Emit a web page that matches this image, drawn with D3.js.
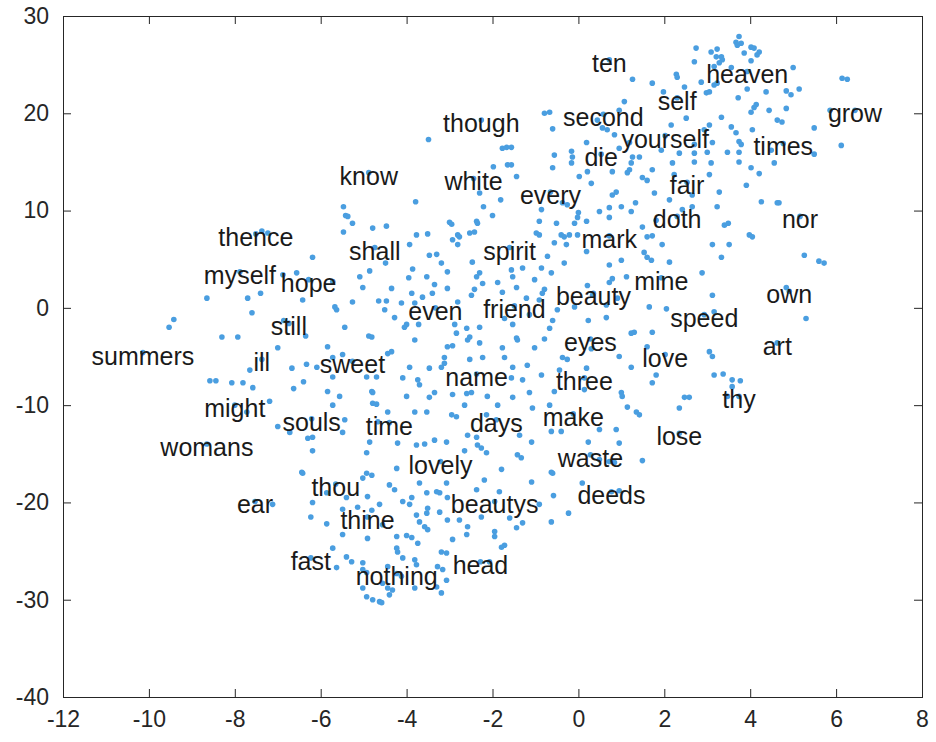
<!DOCTYPE html>
<html>
<head>
<meta charset="utf-8">
<script src="https://cdn.jsdelivr.net/npm/d3@7"></script>
<style>
  html, body { margin: 0; padding: 0; background: #fff; }
  svg { display: block; }
</style>
</head>
<body>
<div id="chart"></div>
<script>
// Word embedding (t-SNE) scatter: every word is a dot, a subset is labelled.
const xTicks = [-12, -10, -8, -6, -4, -2, 0, 2, 4, 6, 8];
const yTicks = [-40, -30, -20, -10, 0, 10, 20, 30];

// Labelled words: [word, x, y]
const labelledWords = [
  ["ten", 0.72, 25.5], ["heaven", 3.93, 24.3], ["self", 2.30, 21.6], ["grow", 6.44, 20.3],
  ["though", -2.26, 19.3], ["second", 0.58, 19.9], ["yourself", 2.02, 17.7], ["times", 4.77, 16.9],
  ["die", 0.53, 15.8], ["know", -4.88, 13.9], ["white", -2.44, 13.3], ["fair", 2.53, 12.9],
  ["every", -0.65, 11.9], ["doth", 2.30, 9.4], ["nor", 5.16, 9.4], ["thence", -7.51, 7.6],
  ["mark", 0.72, 7.4], ["shall", -4.74, 6.2], ["spirit", -1.60, 6.2], ["myself", -7.88, 3.7],
  ["hope", -6.28, 2.9], ["mine", 1.93, 3.1], ["own", 4.91, 1.7], ["beauty", 0.35, 1.5],
  ["even", -3.33, 0.0], ["friend", -1.49, 0.2], ["speed", 2.93, -0.7], ["still", -6.74, -1.6],
  ["eyes", 0.28, -3.2], ["art", 4.63, -3.6], ["summers", -10.14, -4.6], ["love", 2.02, -4.8],
  ["ill", -7.37, -5.3], ["sweet", -5.26, -5.5], ["name", -2.37, -6.8], ["three", 0.14, -7.2],
  ["thy", 3.74, -9.1], ["might", -8.00, -10.0], ["souls", -6.21, -11.4], ["make", -0.12, -10.9],
  ["time", -4.40, -11.8], ["days", -1.91, -11.5], ["lose", 2.35, -12.9], ["womans", -8.65, -14.0],
  ["waste", 0.28, -15.1], ["lovely", -3.21, -15.8], ["thou", -5.65, -18.1], ["deeds", 0.77, -18.9],
  ["ear", -7.53, -19.9], ["beautys", -1.95, -19.9], ["thine", -4.91, -21.5], ["fast", -6.23, -25.7],
  ["head", -2.28, -26.1], ["nothing", -4.23, -27.3]
];

// Unlabelled words: [x, y]
const otherWords = [
  [-3.49,17.3],[-1.77,16.4],[-1.67,16.5],[-1.98,14.5],[-1.65,14.7],[-2.30,11.8],[-1.81,11.1],
  [-2.21,10.4],[-2.00,9.5],[-3.79,10.9],[-5.47,10.4],[-5.42,9.5],[-5.37,9.4],[-5.26,8.7],
  [-4.47,8.4],[-4.79,8.2],[-3.00,8.8],[-2.95,8.6],[-2.37,8.9],[-2.35,8.7],
  [1.26,23.5],[1.72,23.1],[2.28,24.0],[2.30,23.7],[1.98,22.2],[2.47,22.7],[1.07,21.2],
  [0.95,20.3],[-0.79,20.0],[-0.67,20.1],[2.16,18.8],[2.51,19.5],[-0.60,18.4],[0.44,19.3],
  [0.56,18.5],[0.67,18.3],[0.84,17.8],[1.19,17.0],[0.95,16.4],[0.19,17.0],[-1.56,16.5],
  [-0.16,16.1],[-0.14,15.5],[-0.56,15.7],[1.26,15.5],[1.42,15.5],[1.93,16.2],[2.35,15.9],
  [-1.56,14.7],[-0.60,14.4],[-0.16,14.9],[0.21,14.0],[1.23,14.9],[1.19,14.2],[0.79,14.0],
  [1.14,13.9],[1.72,14.2],[1.49,13.4],[1.60,13.1],[-1.44,13.5],[0.02,13.5],[0.30,12.8],
  [2.19,14.9],[2.23,13.7],[0.88,11.9],[0.79,11.6],[1.77,11.8],[-0.37,10.8],[-0.26,10.6],
  [-0.86,10.1],[0.00,9.8],[0.19,8.9],[-0.02,9.3],[-0.09,8.7],[-0.51,8.7],[-0.91,8.9],
  [0.49,9.9],[0.72,10.3],[1.00,10.4],[1.33,10.8],[1.23,9.9],[0.72,9.3],[2.12,11.1],
  [1.49,8.3],[1.81,9.0],[2.42,10.1],
  [3.74,27.9],[3.67,27.3],[3.79,27.2],[3.70,27.0],[2.74,26.7],[3.09,26.3],[3.23,26.6],
  [3.21,25.8],[3.86,26.2],[4.02,26.8],[4.09,26.7],[4.21,26.3],[4.16,26.0],[2.70,25.3],
  [3.33,25.8],[3.35,25.5],[3.28,25.2],[3.16,24.8],[4.02,25.4],[3.56,24.7],[5.00,24.7],
  [6.14,23.6],[6.26,23.5],[2.86,23.2],[3.16,22.9],[3.23,23.1],[3.05,22.2],[2.98,22.1],
  [3.93,22.5],[4.37,22.2],[4.84,22.3],[4.95,21.9],[5.14,22.5],[3.72,21.6],[4.14,20.9],
  [4.09,20.6],[4.02,20.1],[4.44,20.3],[4.84,20.5],[3.33,19.6],[4.63,19.3],[4.74,19.1],
  [5.49,18.5],[5.86,20.3],[3.56,18.6],[3.67,18.0],[4.05,18.3],[2.93,18.3],[3.05,18.8],
  [3.74,17.1],[3.79,16.8],[3.12,17.0],[2.70,16.8],[2.70,15.9],[3.00,16.0],[3.47,16.0],
  [3.74,16.0],[4.49,16.2],[5.49,15.8],[6.12,16.7],[3.09,14.9],[2.70,15.0],[3.74,15.0],
  [4.56,14.9],[4.02,14.4],[4.21,13.8],[3.05,13.7],[3.91,12.6],[3.28,11.9],[2.65,11.6],
  [4.26,10.9],[4.63,10.8],[4.67,10.8],[3.23,10.4],[2.65,10.4],[3.40,8.5],[3.49,8.7],
  [-7.37,7.9],[-7.23,7.7],[-6.19,5.2],[-8.65,1.0],[-7.70,1.0],[-7.40,1.5],[-6.88,3.4],
  [-6.56,3.6],[-6.42,0.8],[-7.60,-0.5],[-9.42,-1.2],[-9.53,-2.0],[-8.30,-3.0],[-7.93,-3.0],
  [-6.86,-1.3],[-6.35,-2.9],[-7.00,-4.1],[-5.84,-4.0],[-7.65,-6.4],[-6.67,-6.2],
  [-6.33,-5.8],[-6.09,-6.1],[-8.58,-7.5],[-8.44,-7.5],[-8.07,-7.7],[-7.81,-7.7],[-7.58,-8.2],
  [-6.63,-8.3],[-6.40,-7.6],[-7.19,-9.6],[-7.72,-10.7],[-7.00,-12.2],[-5.84,-8.6],
  [-5.47,7.8],[-3.77,7.5],[-3.51,7.6],[-2.81,7.5],[-2.77,7.3],[-2.53,7.7],[-2.42,7.8],
  [-3.93,6.5],[-2.81,6.5],[-2.93,7.0],[-3.47,5.4],[-3.30,5.5],[-4.49,4.6],[-3.19,4.6],
  [-2.47,4.7],[-4.86,3.8],[-3.86,4.0],[-3.05,3.7],[-2.30,3.6],[-2.37,3.2],[-5.09,3.2],
  [-3.95,3.1],[-3.53,3.2],[-5.72,2.7],[-3.35,2.4],[-2.23,2.5],[-1.88,2.6],[-5.02,2.1],
  [-4.35,2.0],[-3.88,1.5],[-3.40,1.5],[-3.05,2.0],[-2.42,1.9],[-1.77,1.6],[-3.63,1.1],
  [-2.49,1.3],[-5.26,0.6],[-4.65,0.7],[-4.47,0.7],[-4.12,0.5],[-3.81,0.5],[-2.81,0.6],
  [-5.67,0.1],[-5.63,-0.2],[-4.51,-0.2],[-4.28,-1.0],[-4.00,-1.7],[-4.05,-2.0],[-3.72,-1.7],
  [-2.88,-1.7],[-2.60,-2.1],[-2.30,-2.0],[-1.72,-1.1],[-5.44,-2.0],[-2.84,-2.6],[-4.88,-2.9],
  [-4.81,-3.0],[-3.81,-3.3],[-2.53,-3.0],[-2.58,-3.3],[-3.05,-4.0],[-2.93,-3.9],[-2.30,-3.6],
  [-1.77,-4.1],[-4.35,-4.5],[-4.44,-4.7],[-5.49,-4.8],[-5.72,-5.1],[-3.12,-5.1],[-2.53,-5.3],
  [-2.23,-5.1],[-1.72,-5.1],[-3.93,-6.1],[-3.47,-6.2],[-3.19,-6.1],[-3.12,-5.7],[-4.93,-7.1],
  [-4.09,-7.2],[-3.74,-7.4],[-3.70,-7.9],[-4.70,-7.1],[-5.72,-7.1],[-4.81,-8.6],[-4.79,-8.7],
  [-3.35,-8.7],[-2.93,-8.9],[-2.60,-8.8],[-2.49,-8.7],[-2.12,-9.1],[-5.56,-9.1],[-4.00,-9.1],
  [-3.47,-9.2],[-4.79,-9.8],[-4.70,-9.9],[-2.65,-10.0],[-1.88,-10.0],[-5.72,-10.0],
  [-4.44,-10.7],[-3.81,-10.7],[-3.53,-10.7],[-2.95,-11.0],[-2.84,-11.2],[-2.14,-11.0],
  [-5.44,-11.5],[-4.67,-11.7],
  [-0.40,7.5],[-0.33,7.3],[-0.21,7.5],[-0.02,7.5],[-0.98,7.7],[-0.91,7.5],[-0.56,6.7],
  [-0.28,6.5],[0.19,5.8],[1.60,7.3],[1.72,7.4],[1.95,6.5],[1.53,5.7],[1.60,5.2],[1.70,4.9],
  [2.12,4.7],[-0.72,5.3],[-0.33,4.6],[-1.56,3.9],[-1.53,3.2],[-1.30,4.1],[-0.86,4.1],
  [-0.63,3.6],[0.72,4.4],[1.00,4.9],[1.12,3.2],[0.72,2.6],[0.79,3.0],[0.21,2.3],[-1.44,2.1],
  [-1.02,2.9],[-0.79,1.9],[-0.84,1.5],[-1.21,1.0],[-0.91,0.8],[-0.49,-0.2],[-0.09,0.1],
  [0.65,0.3],[0.33,1.3],[0.91,1.0],[1.65,0.1],[2.05,-0.1],[-1.53,-1.7],[-1.14,-0.7],
  [-0.60,-1.3],[0.23,-1.3],[0.65,-1.0],[-0.67,-2.1],[1.23,-2.6],[1.30,-2.5],[1.72,-2.5],
  [-1.44,-3.1],[-1.42,-3.3],[-0.79,-3.2],[-1.02,-4.1],[0.30,-4.2],[1.60,-4.0],[-0.37,-5.1],
  [-0.26,-5.3],[0.95,-5.0],[1.23,-6.1],[1.81,-6.9],[1.72,-7.7],[-1.53,-6.1],[-1.19,-5.9],
  [-0.86,-6.9],[-0.44,-6.4],[0.19,-6.2],[-1.30,-7.4],[-1.56,-7.2],[-0.56,-8.6],[0.14,-8.4],
  [1.00,-8.7],[1.02,-9.1],[-1.14,-8.7],[-1.53,-9.2],[-0.67,-10.0],[-1.07,-10.3],[1.14,-10.2],
  [1.35,-10.7],[1.42,-11.0],[2.35,-10.3],[2.47,-9.2],
  [3.98,7.5],[4.05,7.3],[3.12,6.5],[3.51,6.5],[3.33,5.2],[5.26,5.4],[5.60,4.8],[5.72,4.6],
  [2.88,3.6],[3.12,1.3],[4.84,2.1],[3.16,-0.4],[5.30,-1.1],[3.05,-4.5],[3.12,-5.0],
  [3.16,-6.9],[3.37,-6.8],[3.58,-7.4],[3.77,-7.5],[3.58,-8.1],[3.47,-9.1],[2.58,-9.2],
  [-6.72,-12.8],[-6.30,-13.4],[-6.19,-13.3],[-6.19,-14.7],[-6.44,-16.9],[-6.42,-17.0],
  [-7.12,-20.2],[-6.19,-20.0],[-6.23,-21.5],[-5.86,-22.2],[-5.86,-19.0],
  [-5.49,-12.8],[-4.86,-13.8],[-4.21,-13.9],[-3.77,-14.1],[-3.58,-14.0],[-3.35,-13.6],
  [-3.07,-13.8],[-2.58,-13.1],[-2.37,-13.3],[-2.35,-14.1],[-2.26,-14.4],[-2.14,-14.9],
  [-2.65,-14.7],[-4.93,-14.9],[-4.23,-16.5],[-1.79,-16.6],[-4.93,-17.0],[-4.81,-17.2],
  [-5.02,-17.5],[-2.19,-17.7],[-3.07,-18.0],[-3.70,-18.0],[-4.40,-18.2],[-4.28,-18.7],
  [-3.30,-18.9],[-3.23,-19.0],[-3.53,-19.0],[-2.37,-18.7],[-1.84,-18.9],[-5.40,-19.5],
  [-4.91,-19.4],[-3.05,-19.5],[-4.09,-19.9],[-3.88,-19.5],[-3.93,-20.2],[-4.63,-20.2],
  [-4.81,-20.8],[-5.14,-20.5],[-5.49,-20.7],[-3.51,-20.6],[-3.53,-21.1],[-3.23,-21.0],
  [-3.77,-21.3],[-3.05,-21.8],[-2.77,-21.8],[-2.26,-21.5],[-3.70,-22.0],[-4.56,-22.3],
  [-3.58,-22.5],[-3.51,-22.8],[-2.58,-22.5],[-2.60,-23.3],[-1.95,-23.0],[-1.95,-23.5],
  [-1.72,-24.4],[-1.79,-24.6],[-4.23,-23.5],[-4.00,-23.4],[-3.88,-23.6],[-3.74,-24.2],
  [-2.93,-23.8],[-5.49,-23.3],[-4.91,-23.7],[-5.72,-24.7],[-4.23,-24.7],[-4.21,-25.1],
  [-3.19,-25.1],[-3.07,-25.2],[-5.40,-25.6],[-5.28,-26.1],[-5.02,-26.2],[-4.09,-25.7],
  [-3.81,-25.9],[-3.77,-26.4],[-3.28,-26.6],[-3.16,-26.9],[-2.07,-26.1],[-5.63,-26.7],
  [-5.02,-26.9],[-4.93,-27.2],[-4.44,-26.6],[-4.12,-27.6],[-4.56,-28.3],[-4.44,-28.8],
  [-4.33,-29.0],[-4.40,-29.5],[-4.93,-29.7],[-4.79,-30.0],[-4.63,-30.2],[-4.58,-30.3],
  [-5.02,-28.8],[-3.81,-28.8],[-3.30,-28.7],[-3.19,-29.3],[-3.07,-28.0],
  [-1.37,-13.1],[-1.09,-13.8],[-0.63,-12.7],[-0.40,-12.7],[0.49,-12.5],[0.88,-12.5],
  [0.23,-13.8],[0.95,-13.9],[-1.42,-15.1],[-1.33,-15.4],[0.49,-15.6],[0.72,-15.8],
  [0.84,-15.9],[1.49,-15.7],[-0.63,-16.9],[-0.60,-17.0],[-1.09,-17.9],[0.09,-18.0],
  [-0.58,-19.3],[0.95,-18.8],[-0.91,-20.2],[-0.23,-21.1],[-0.63,-22.0],[-1.44,-22.6],
  [-1.30,-22.1],[-1.60,-21.6]
];

const W = 936, H = 742;
const plot = { left: 63, right: 922, top: 16, bottom: 697 };
const axisColor = "#262626";
const dotColor = "#4a9ee0";
const font = "'Liberation Sans', Arial, Helvetica, sans-serif";

const svg = d3.select("#chart").append("svg")
  .attr("width", W).attr("height", H)
  .style("font-family", font);

const x = d3.scaleLinear().domain([-12, 8]).range([plot.left, plot.right]);
const y = d3.scaleLinear().domain([-40, 30]).range([plot.bottom, plot.top]);

const tick = 8;
const plain = d => String(d);

// Axes: ticks point inward and are mirrored on the top and right edges
const gx = svg.append("g").attr("transform", `translate(0,${plot.bottom})`)
  .call(d3.axisBottom(x).tickValues(xTicks).tickFormat(plain).tickSizeInner(-tick).tickSizeOuter(0).tickPadding(14));
const gxTop = svg.append("g").attr("transform", `translate(0,${plot.top})`)
  .call(d3.axisTop(x).tickValues(xTicks).tickSizeInner(-tick).tickSizeOuter(0).tickFormat(""));
const gy = svg.append("g").attr("transform", `translate(${plot.left},0)`)
  .call(d3.axisLeft(y).tickValues(yTicks).tickFormat(plain).tickSizeInner(-tick).tickSizeOuter(0).tickPadding(14));
const gyRight = svg.append("g").attr("transform", `translate(${plot.right},0)`)
  .call(d3.axisRight(y).tickValues(yTicks).tickSizeInner(-tick).tickSizeOuter(0).tickFormat(""));

[gx, gxTop, gy, gyRight].forEach(g => {
  g.select(".domain").remove();
  g.selectAll(".tick line").attr("stroke", axisColor).attr("stroke-width", 1);
  g.selectAll(".tick text").attr("fill", axisColor)
    .style("font-family", font).style("font-size", "23px");
});

svg.append("rect")
  .attr("x", plot.left + 0.5).attr("y", plot.top + 0.5)
  .attr("width", plot.right - plot.left).attr("height", plot.bottom - plot.top)
  .attr("fill", "none").attr("stroke", axisColor).attr("stroke-width", 1);

// Dots for every word, labelled or not
const allDots = otherWords.concat(labelledWords.map(d => [d[1], d[2]]));
svg.append("g").selectAll("circle").data(allDots).join("circle")
  .attr("cx", d => x(d[0])).attr("cy", d => y(d[1]))
  .attr("r", 2.8).attr("fill", dotColor);

// Word labels centred on their dots
svg.append("g").selectAll("text").data(labelledWords).join("text")
  .attr("x", d => x(d[1])).attr("y", d => y(d[2]) + 12)
  .attr("text-anchor", "middle")
  .style("font-size", "25px")
  .attr("fill", "#1a1a1a")
  .text(d => d[0]);
</script>
</body>
</html>
